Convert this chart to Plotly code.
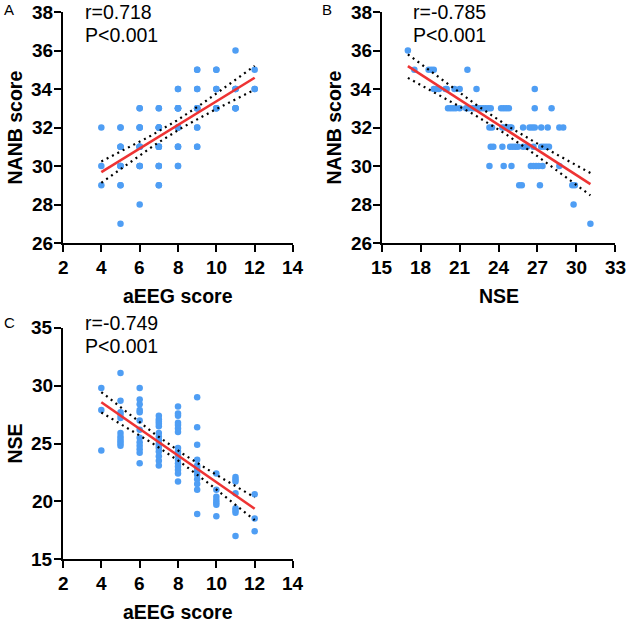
import numpy as np
import plotly.graph_objects as go

W, H = 626, 622

# ---------------- data ----------------
# Panel A: aEEG score vs NANB score (integer grid, duplicates included)
a_aeeg = [4, 4, 4,
          5, 5, 5, 5, 5, 5, 5, 5, 5, 5, 5,
          6, 6, 6, 6, 6, 6, 6, 6, 6, 6, 6, 6, 6,
          7, 7, 7, 7, 7, 7, 7, 7, 7, 7, 7, 7, 7, 7, 7,
          8, 8, 8, 8, 8, 8, 8, 8, 8, 8, 8, 8, 8, 8, 8, 8,
          9, 9, 9, 9, 9, 9, 9, 9, 9, 9, 9, 9,
          10, 10, 10, 10, 10, 10, 10,
          11, 11, 11, 11, 11, 11, 11, 11,
          12, 12, 12]
a_nanb = [32, 30, 29,
          27, 29, 29, 30, 30, 30, 31, 31, 31, 32, 32,
          28, 30, 30, 30, 31, 31, 31, 31, 32, 32, 32, 33, 33,
          29, 29, 30, 30, 30, 31, 31, 31, 31, 32, 32, 32, 32, 33, 33,
          30, 30, 31, 31, 31, 32, 32, 32, 32, 33, 33, 33, 33, 33, 34, 34,
          31, 31, 32, 32, 33, 33, 33, 33, 34, 34, 35, 35,
          33, 33, 33, 34, 34, 35, 35,
          33, 33, 33, 33, 34, 34, 34, 36,
          34, 34, 35]

# Panel B: NSE vs NANB score
b_nse = [17.0,
         17.5, 18.6, 18.8, 19.0, 21.6,
         19.0, 19.2, 19.4, 19.9, 20.0, 20.6, 21.0, 22.3, 26.8,
         20.1, 20.3, 20.5, 20.7, 21.0, 21.5, 21.7, 22.0, 22.2, 22.4, 22.6,
         22.8, 23.0, 23.2, 23.4, 24.2, 24.4, 24.6, 24.8, 26.8, 28.1,
         23.3, 23.5, 24.3, 24.5, 24.7, 24.9, 25.0, 25.9, 26.4, 26.6, 26.8,
         27.3, 27.8, 28.7, 29.0,
         23.4, 23.6, 24.3, 24.9, 25.1, 25.3, 25.5, 25.9, 26.2, 26.7, 27.3,
         27.5, 27.7, 27.9,
         23.3, 24.4, 25.0, 26.5, 26.7, 26.9, 27.1, 27.4, 28.7,
         25.6, 25.8, 27.2, 29.7, 29.9,
         29.8,
         31.1]
b_nanb = [36,
          35, 35, 35, 35, 35,
          34, 34, 34, 34, 34, 34, 34, 34, 34,
          33, 33, 33, 33, 33, 33, 33, 33, 33, 33, 33,
          33, 33, 33, 33, 33, 33, 33, 33, 33, 33,
          32, 32, 32, 32, 32, 32, 32, 32, 32, 32, 32,
          32, 32, 32, 32,
          31, 31, 31, 31, 31, 31, 31, 31, 31, 31, 31,
          31, 31, 31,
          30, 30, 30, 30, 30, 30, 30, 30, 30,
          29, 29, 29, 29, 29,
          28,
          27]

# Panel C: aEEG score vs NSE
c_aeeg = ([4] * 3 + [5] * 11 + [6] * 13 + [7] * 15 + [8] * 16 +
          [9] * 12 + [10] * 7 + [11] * 8 + [12] * 3)
c_nse = [29.8, 27.9, 24.4,
         31.1, 28.7, 27.7, 27.5, 27.2, 25.9, 25.6, 25.4, 25.2, 25.0, 24.8,
         29.8, 28.8, 28.4, 27.9, 27.7, 27.0, 26.2, 25.5, 25.1, 24.8, 24.5, 24.2, 23.3,
         27.4, 27.1, 26.9, 26.7, 26.5, 25.9, 25.6, 25.3, 25.0, 24.8, 24.6, 24.3, 23.9, 23.5, 23.1,
         28.2, 27.6, 27.4, 26.8, 26.6, 26.3, 26.0, 24.6, 24.3, 24.0, 23.6, 23.3, 23.0, 22.7, 22.4, 21.7,
         29.0, 26.4, 24.9, 23.6, 23.1, 22.9, 22.6, 22.3, 21.9, 21.5, 21.0, 18.9,
         22.4, 21.0, 20.4, 20.1, 19.9, 19.7, 18.7,
         22.1, 21.9, 21.7, 20.7, 19.4, 19.2, 19.0, 17.0,
         20.6, 18.5, 17.4]

stats_text = {"A": ("r=0.718", "P<0.001"),
              "B": ("r=-0.785", "P<0.001"),
              "C": ("r=-0.749", "P<0.001")}

a_xticks = [2, 4, 6, 8, 10, 12, 14]
a_yticks = [26, 28, 30, 32, 34, 36, 38]
b_xticks = [15, 18, 21, 24, 27, 30, 33]
b_yticks = [26, 28, 30, 32, 34, 36, 38]
c_xticks = [2, 4, 6, 8, 10, 12, 14]
c_yticks = [15, 20, 25, 30, 35]

T95 = 1.99  # two-sided 95% t critical value for ~85 df

# ---------------- style ----------------
FONT = "Arial, Liberation Sans, sans-serif"
DOT = "#4F9EF4"
RED = "#EE3333"


def px(x):
    return x / W


def py(y):
    return 1 - y / H


fig = go.Figure()


def add_panel(n, x, y):
    x = np.asarray(x, float)
    y = np.asarray(y, float)
    xa = "x" if n == 1 else f"x{n}"
    ya = "y" if n == 1 else f"y{n}"
    fig.add_trace(go.Scatter(x=x, y=y, mode="markers", xaxis=xa, yaxis=ya,
                             marker=dict(color=DOT, size=6.5, line=dict(width=0)),
                             showlegend=False, hoverinfo="skip"))
    slope, icpt = np.polyfit(x, y, 1)
    nn = len(x)
    xm = x.mean()
    sxx = ((x - xm) ** 2).sum()
    resid = y - (slope * x + icpt)
    s = np.sqrt((resid ** 2).sum() / (nn - 2))
    xs = np.linspace(x.min(), x.max(), 60)
    yh = slope * xs + icpt
    hw = T95 * s * np.sqrt(1 / nn + (xs - xm) ** 2 / sxx)
    for yy in (yh + hw, yh - hw):
        fig.add_trace(go.Scatter(x=xs, y=yy, mode="lines", xaxis=xa, yaxis=ya,
                                 line=dict(color="black", width=2.2, dash="2px,4px"),
                                 showlegend=False, hoverinfo="skip"))
    fig.add_trace(go.Scatter(x=xs, y=yh, mode="lines", xaxis=xa, yaxis=ya,
                             line=dict(color=RED, width=2.6),
                             showlegend=False, hoverinfo="skip"))


add_panel(1, a_aeeg, a_nanb)
add_panel(2, b_nse, b_nanb)
add_panel(3, c_aeeg, c_nse)

axis_common = dict(showline=True, linecolor="black", linewidth=2,
                   ticks="outside", ticklen=7, tickwidth=2, tickcolor="black",
                   showgrid=False, zeroline=False, showticklabels=False,
                   automargin=False)

AX_L, AX_R = 63, 293
BX_L, BX_R = 382, 615
AB_BOT, AB_TOP = 243, 12
C_BOT, C_TOP = 559, 328

xA = [px(AX_L), px(AX_R)]
xB = [px(BX_L), px(BX_R)]
yAB = [py(AB_BOT), py(AB_TOP)]
yC = [py(C_BOT), py(C_TOP)]

fig.update_layout(
    width=W, height=H,
    margin=dict(l=0, r=0, t=0, b=0, pad=0),
    paper_bgcolor="white", plot_bgcolor="white",
    xaxis=dict(domain=xA, range=[2, 14], tickvals=a_xticks, anchor="y", **axis_common),
    yaxis=dict(domain=yAB, range=[26, 38], tickvals=a_yticks, anchor="x", **axis_common),
    xaxis2=dict(domain=xB, range=[15, 33], tickvals=b_xticks, anchor="y2", **axis_common),
    yaxis2=dict(domain=yAB, range=[26, 38], tickvals=b_yticks, anchor="x2", **axis_common),
    xaxis3=dict(domain=xA, range=[2, 14], tickvals=c_xticks, anchor="y3", **axis_common),
    yaxis3=dict(domain=yC, range=[15, 35], tickvals=c_yticks, anchor="x3", **axis_common),
)

ann = []


def text(x, y, s, size, bold=False, angle=0, xanchor="center"):
    ann.append(dict(x=px(x), y=py(y), xref="paper", yref="paper", text=s,
                    showarrow=False, xanchor=xanchor, yanchor="middle",
                    textangle=angle,
                    font=dict(family=FONT, size=size, color="black",
                              weight="bold" if bold else "normal")))


TICK_FONT = dict(family=FONT, size=19, color="black", weight="bold")


def tick_labels(xref, yref, xticks, yticks, x_axis_px, y_axis_px):
    for v in xticks:
        ann.append(dict(x=v, xref=xref, y=py(y_axis_px + 24), yref="paper",
                        text=str(v), showarrow=False, xanchor="center",
                        yanchor="middle", font=TICK_FONT))
    for v in yticks:
        ann.append(dict(x=px(x_axis_px - 8), xref="paper", y=v, yref=yref,
                        text=str(v), showarrow=False, xanchor="right",
                        yanchor="middle", font=TICK_FONT))


tick_labels("x", "y", a_xticks, a_yticks, AX_L, AB_BOT)
tick_labels("x2", "y2", b_xticks, b_yticks, BX_L, AB_BOT)
tick_labels("x3", "y3", c_xticks, c_yticks, AX_L, C_BOT)

# panel letters
text(2, 10, "A", 15, xanchor="left")
text(320, 10, "B", 15, xanchor="left")
text(2, 322, "C", 15, xanchor="left")


def esc(s):
    return s.replace("<", "&lt;")


# stats
text(83, 12.5, esc(stats_text["A"][0]), 19.5, xanchor="left")
text(83, 34.5, esc(stats_text["A"][1]), 19.5, xanchor="left")
text(411, 12.5, esc(stats_text["B"][0]), 19.5, xanchor="left")
text(411, 34.5, esc(stats_text["B"][1]), 19.5, xanchor="left")
text(83, 322.5, esc(stats_text["C"][0]), 19.5, xanchor="left")
text(83, 346, esc(stats_text["C"][1]), 19.5, xanchor="left")

# axis titles
text(178, 296, "aEEG score", 19.5, bold=True)
text(499, 296, "NSE", 19.5, bold=True)
text(178, 612, "aEEG score", 19.5, bold=True)
text(14, 127.5, "NANB score", 19.5, bold=True, angle=-90)
text(333, 127.5, "NANB score", 19.5, bold=True, angle=-90)
text(14, 443.5, "NSE", 19.5, bold=True, angle=-90)

fig.update_layout(annotations=ann)

fig.write_html("out.html",
               config={"displayModeBar": False, "staticPlot": True},
               post_script="document.body.style.margin='0';"
                           "document.body.style.overflow='hidden';")
